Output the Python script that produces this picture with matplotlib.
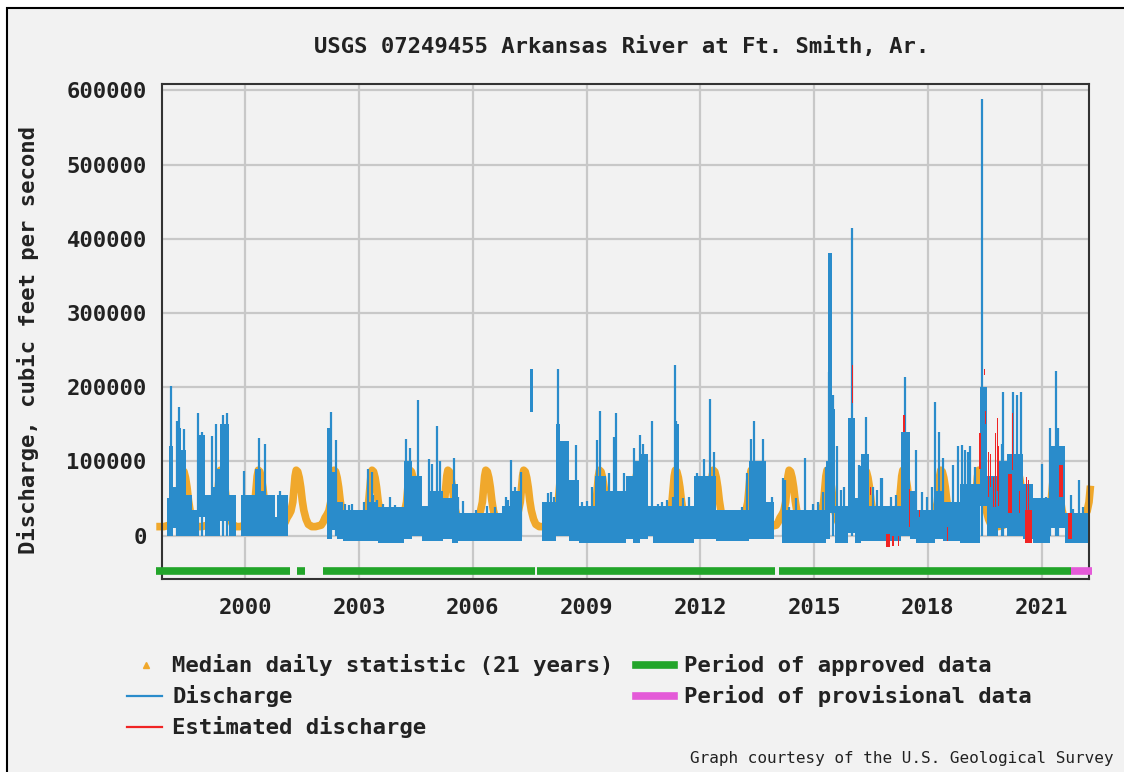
import numpy as np
import matplotlib.pyplot as plt
from matplotlib.lines import Line2D
from matplotlib.patches import Rectangle

plt.rcParams['font.family'] = 'DejaVu Sans Mono'

title = "USGS 07249455 Arkansas River at Ft. Smith, Ar."
ylabel = "Discharge, cubic feet per second"
year_ticks = [2000, 2003, 2006, 2009, 2012, 2015, 2018, 2021]
y_ticks = [0, 100000, 200000, 300000, 400000, 500000, 600000]

# median daily statistic, fraction of year -> thousand cfs
median_doy = [0.00, 0.05, 0.10, 0.15, 0.20, 0.25, 0.28, 0.31, 0.34, 0.38,
               0.42, 0.46, 0.50, 0.54, 0.60, 0.66, 0.75, 0.85, 0.93]
median_kcfs = [14, 18, 24, 28, 33, 45, 62, 80, 88, 86,
               78, 65, 47, 34, 22, 15, 12, 12, 13]

# discharge, dense daily trace read as blocks: start, end, low, high (thousand cfs)
q_start = [1997.92, 1997.98, 1998.09, 1998.18, 1998.31, 1998.42, 1998.58, 1998.75, 1998.93, 1999.08,
           1999.19, 1999.32, 1999.56, 1999.88, 2000.25, 2000.42, 2000.55, 2000.77, 2000.84,
           2002.15, 2002.28, 2002.41, 2002.58, 2003.20, 2003.51, 2004.17, 2004.39, 2004.65, 2004.83,
           2005.22, 2005.44, 2005.62, 2006.77, 2006.99, 2007.50, 2007.83, 2008.18, 2008.30, 2008.53,
           2008.79, 2009.23, 2009.50, 2010.03, 2010.21, 2010.40, 2010.61, 2010.74, 2011.31, 2011.44,
           2011.84, 2012.41, 2013.29, 2013.73, 2014.16, 2015.32, 2015.37, 2015.41, 2015.54, 2015.89,
           2016.07, 2016.24, 2016.46, 2017.30, 2017.52, 2017.69, 2018.18, 2018.40, 2018.85, 2019.37,
           2019.41, 2019.55, 2019.86, 2020.08, 2020.52, 2020.78, 2021.22, 2021.62]
q_end = [1997.98, 1998.09, 1998.18, 1998.31, 1998.42, 1998.58, 1998.75, 1998.93, 1999.08, 1999.19,
         1999.32, 1999.56, 1999.76, 2000.25, 2000.42, 2000.55, 2000.77, 2000.84, 2001.12,
         2002.28, 2002.41, 2002.58, 2003.20, 2003.51, 2004.17, 2004.39, 2004.65, 2004.83, 2005.22,
         2005.44, 2005.62, 2006.77, 2006.99, 2007.30, 2007.59, 2008.18, 2008.30, 2008.53, 2008.79,
         2009.23, 2009.50, 2010.03, 2010.21, 2010.40, 2010.61, 2010.74, 2011.31, 2011.44, 2011.84,
         2012.41, 2013.29, 2013.73, 2013.95, 2015.32, 2015.41, 2015.47, 2015.54, 2015.89, 2016.07,
         2016.24, 2016.46, 2017.30, 2017.52, 2017.69, 2018.18, 2018.40, 2018.85, 2019.37, 2019.55,
         2019.45, 2019.86, 2020.08, 2020.52, 2020.78, 2021.22, 2021.62, 2022.23]
q_low = [0, 0, 10, 0, 0, 0, 0, 25, 0, 0,
         0, 20, 0, 0, 0, 0, 0, 0, 0,
         -5, 8, -5, -8, -8, -10, -5, 0, -8, -8,
         -5, -10, -8, -8, -8, 167, -8, 0, 0, -8,
         -10, -10, -10, -5, -10, -5, 0, -10, -10, -10,
         -5, -8, -5, -5, -10, -5, 160, 30, -10, 3,
         -10, -8, -8, 0, -5, -10, -5, -8, -10, 40,
         100, 0, 10, 0, -5, -10, 10, -10]
q_high = [50, 120, 65, 145, 115, 55, 35, 135, 55, 65,
          90, 150, 55, 55, 90, 60, 55, 25, 55,
          145, 85, 45, 35, 45, 38, 100, 80, 40, 60,
          50, 70, 30, 40, 60, 225, 45, 150, 128, 75,
          40, 80, 60, 80, 100, 110, 40, 40, 150, 40,
          80, 35, 100, 45, 35, 100, 381, 170, 40, 158,
          50, 110, 40, 140, 60, 35, 60, 45, 70, 200,
          536, 80, 100, 110, 70, 50, 120, 30]

# single-day peaks of discharge
spike_t = [1998.05, 1998.20, 1998.25, 1998.38, 1998.76, 1998.85, 1999.12, 1999.22, 1999.41, 1999.52,
           1999.95, 2000.36, 2000.51, 2000.90, 2002.26, 2002.38, 2002.80, 2003.24, 2003.33, 2003.82,
           2004.23, 2004.34, 2004.55, 2004.84, 2004.93, 2005.06, 2005.14, 2005.51, 2007.01, 2007.26,
           2007.98, 2008.24, 2008.72, 2009.28, 2009.36, 2009.73, 2009.78, 2010.25, 2010.40, 2010.49,
           2010.72, 2011.34, 2011.37, 2011.90, 2012.10, 2012.25, 2012.36, 2013.34, 2013.42, 2013.64,
           2014.22, 2014.77, 2015.40, 2015.50, 2015.60, 2016.01, 2016.22, 2016.31, 2016.38, 2016.80,
           2017.41, 2017.68, 2018.20, 2018.29, 2018.41, 2018.65, 2018.80, 2018.89, 2018.97, 2019.07,
           2019.43, 2019.95, 2019.98, 2020.24, 2020.34, 2020.45, 2021.00, 2021.22, 2021.37, 2021.44,
           2021.77, 2021.99,
           2002.63, 2002.72, 2003.14, 2003.36, 2003.46, 2003.64, 2003.95, 2004.05, 2005.62, 2005.75,
           2006.07, 2006.38, 2006.59, 2006.86, 2006.93, 2007.12, 2007.21, 2007.87, 2008.05, 2008.14,
           2008.88, 2009.02, 2009.15, 2009.59, 2009.85, 2009.98, 2010.87, 2011.00, 2011.13, 2011.27,
           2011.53, 2011.71, 2012.04, 2012.59, 2012.83, 2013.11, 2013.24, 2013.89, 2014.17, 2014.35,
           2014.53, 2014.97, 2015.10, 2015.23, 2015.32, 2015.72, 2015.80, 2016.18, 2016.55, 2016.67,
           2016.77, 2017.04, 2017.15, 2017.85, 2017.99, 2018.12, 2019.11, 2019.24, 2020.87, 2021.12,
           2021.84, 2022.10]
spike_kcfs = [201, 155, 173, 143, 165, 140, 134, 150, 162, 165,
              87, 132, 124, 60, 167, 129, 43, 90, 85, 52,
              130, 118, 182, 103, 96, 148, 100, 105, 102, 85,
              57, 225, 122, 129, 168, 133, 165, 118, 135, 123,
              155, 230, 155, 84, 103, 184, 112, 130, 155, 130,
              75, 105, 220, 189, 120, 414, 94, 108, 160, 78,
              213, 115, 180, 140, 105, 95, 120, 122, 115, 112,
              588, 124, 193, 194, 190, 193, 96, 145, 222, 145,
              55, 75,
              43, 41, 45, 54, 48, 43, 41, 37, 52, 46,
              34, 40, 39, 52, 48, 66, 52, 43, 59, 52,
              45, 47, 66, 84, 52, 84, 43, 45, 48, 52,
              50, 52, 79, 34, 32, 39, 84, 52, 77, 39,
              50, 43, 45, 59, 93, 61, 66, 95, 66, 61,
              77, 52, 55, 59, 52, 66, 120, 93, 39, 52,
              36, 39]

# estimated discharge blocks
est_start = [2016.00, 2016.47, 2016.90, 2017.06, 2017.20, 2017.34, 2017.51, 2017.76, 2018.50, 2019.35,
             2019.49, 2019.50, 2019.58, 2019.65, 2019.72, 2019.77, 2019.82, 2019.85, 2020.12, 2020.23,
             2020.40, 2020.56, 2020.59, 2020.65, 2021.47, 2021.70]
est_end = [2016.03, 2016.50, 2017.00, 2017.10, 2017.23, 2017.40, 2017.53, 2017.78, 2018.52, 2019.40,
           2019.51, 2019.53, 2019.60, 2019.67, 2019.74, 2019.80, 2019.84, 2019.87, 2020.21, 2020.25,
           2020.44, 2020.74, 2020.61, 2020.67, 2021.57, 2021.79]
est_low = [178, 54, -15, -14, -14, 140, 12, 25, -8, 90,
           216, 150, 52, 66, 38, 38, 60, 40, 30, 88,
           30, -10, 30, 30, 52, -5]
est_high = [230, 65, 2, 0, 0, 162, 63, 35, 12, 138,
            225, 168, 112, 110, 79, 138, 158, 120, 83, 165,
            60, 35, 79, 75, 95, 30]

approved_start = [1997.65, 2001.37, 2002.04, 2007.69, 2014.08]
approved_end = [2001.17, 2001.58, 2007.64, 2013.98, 2021.77]
provisional_start = [2021.77]
provisional_end = [2022.33]

BLUE = '#2a8ccb'
ORANGE = '#f0a82c'
RED = '#f02424'
GREEN = '#22a52a'
PINK = '#e45ad8'
BG = '#f2f2f2'

W, H = 1124, 772
fig = plt.figure(figsize=(W / 100, H / 100), dpi=100)
fig.patch.set_facecolor('white')
fig.add_artist(Rectangle((7 / W, -0.1), 1.2, 1.1 - 8 / H, transform=fig.transFigure,
                         facecolor=BG, edgecolor='black', lw=1.5, zorder=-10))

ax = fig.add_axes([162 / W, 1 - 579 / H, (1089 - 162) / W, (579 - 84) / H])
ax.set_zorder(1)
ax.set_facecolor(BG)
ax.set_xlim(1997.80, 2022.25)
ax.set_ylim(-58600, 608500)

# median statistic repeated for every year
mx, my = [], []
for yr in range(1997, 2023):
    for d, v in zip(median_doy, median_kcfs):
        mx.append(yr + d)
        my.append(v * 1000)
mx = np.array(mx)
my = np.array(my)
keep = (mx >= 1997.72) & (mx <= 2022.30)
ax.plot(mx[keep], my[keep], color=ORANGE, lw=5.5, zorder=2, clip_on=False)

qs = np.array(q_start)
qe = np.array(q_end)
ql = np.array(q_low) * 1000
qh = np.array(q_high) * 1000
ax.bar(qs, qh - ql, width=qe - qs, bottom=ql, align='edge', color=BLUE, lw=0, zorder=3)
ax.vlines(spike_t, 0, np.array(spike_kcfs) * 1000, color=BLUE, lw=1.6, zorder=3)

es = np.array(est_start)
ee = np.array(est_end)
el = np.array(est_low) * 1000
eh = np.array(est_high) * 1000
ax.bar(es, eh - el, width=ee - es, bottom=el, align='edge', color=RED, lw=0, zorder=4)

ax.hlines([-47200] * len(approved_start), approved_start, approved_end, color=GREEN, lw=5.5,
          zorder=4, clip_on=False)
ax.hlines([-47200], provisional_start, provisional_end, color=PINK, lw=5.5, zorder=4, clip_on=False)

ax.set_xticks(year_ticks)
ax.set_xticklabels([str(y) for y in year_ticks])
ax.set_yticks(y_ticks)
ax.set_yticklabels([str(v) for v in y_ticks])
ax.tick_params(length=0, labelsize=16, colors='#222222')
ax.tick_params(axis='x', pad=14)
ax.tick_params(axis='y', pad=11)
for lab in ax.get_xticklabels() + ax.get_yticklabels():
    lab.set_fontweight('bold')
ax.grid(True, color='#c8c8c8', lw=1.6)
ax.set_axisbelow(True)
for s in ax.spines.values():
    s.set_color('#333333')
    s.set_linewidth(1.5)

fig.text(622 / W, 1 - 47 / H, title, ha='center', va='center', fontsize=16, fontweight='bold',
         color='#222222')
fig.text(28 / W, 1 - 340 / H, ylabel, ha='center', va='center', rotation=90, fontsize=16,
         fontweight='bold', color='#222222')

# legend, drawn by hand to keep the two-column USGS layout
def fx(p):
    return p / W

def fy(p):
    return 1 - p / H

fig.add_artist(Line2D([fx(146)], [fy(665)], marker='^', ms=4, color=ORANGE, lw=0))
fig.add_artist(Line2D([fx(127), fx(162)], [fy(696)] * 2, color=BLUE, lw=1.6))
fig.add_artist(Line2D([fx(127), fx(162)], [fy(727)] * 2, color=RED, lw=1.6))
fig.add_artist(Line2D([fx(636), fx(674)], [fy(665)] * 2, color=GREEN, lw=5.5))
fig.add_artist(Line2D([fx(636), fx(674)], [fy(696)] * 2, color=PINK, lw=5.5))
legend_items = [(172, 665, "Median daily statistic (21 years)"),
                (172, 696, "Discharge"),
                (172, 727, "Estimated discharge"),
                (684, 665, "Period of approved data"),
                (684, 696, "Period of provisional data")]
for px, py, txt in legend_items:
    fig.text(fx(px), fy(py), txt, ha='left', va='center', fontsize=16, fontweight='bold',
             color='#222222')

fig.text(fx(1113), fy(759), "Graph courtesy of the U.S. Geological Survey", ha='right',
         va='center', fontsize=11.5, color='#222222')

fig.savefig('out.png', dpi=100, facecolor=fig.get_facecolor())
